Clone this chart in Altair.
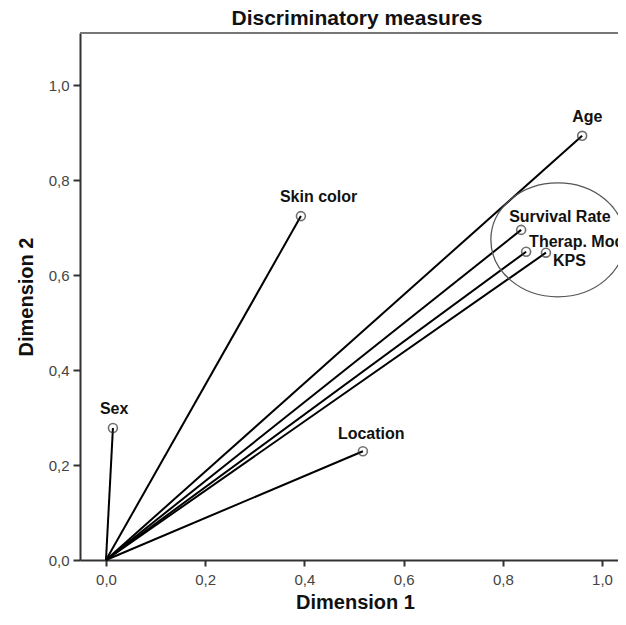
import altair as alt
import pandas as pd

# ---- data ----
chart_title = ["Discriminatory measures"]
variables = ["Sex", "Skin color", "Location", "Age", "Survival Rate", "Therap. Mod", "KPS"]
dimension_1 = [0.014, 0.393, 0.518, 0.960, 0.837, 0.847, 0.887]
dimension_2 = [0.278, 0.724, 0.229, 0.893, 0.695, 0.649, 0.647]

ellipse_center_x = [0.911]
ellipse_center_y = [0.674]

tick_values = [0.0, 0.2, 0.4, 0.6, 0.8, 1.0]

# ---- layout / style (not data) ----
W, H = 538, 527
FONT = "Liberation Sans"
label_offsets = {  # (dx, dy) of label start relative to point
    "Sex": (-13, -14),
    "Skin color": (-21, -14),
    "Location": (-25, -12),
    "Age": (-10, -14),
    "Survival Rate": (-12, -8),
    "Therap. Mod": (3, -5),
    "KPS": (7, 13),
}

df = pd.DataFrame({"variable": variables, "d1": dimension_1, "d2": dimension_2})
df["origin"] = 0.0
ell = pd.DataFrame({"cx": ellipse_center_x, "cy": ellipse_center_y})
ttl = pd.DataFrame({"t": chart_title})

label_expr = "replace(format(datum.value, '.1f'), '.', ',')"

xscale = alt.Scale(domain=[-0.0524, (W - 26) / 496], nice=False, zero=False)
yscale = alt.Scale(domain=[0.0, 1.1095], nice=False, zero=False)

xaxis = alt.Axis(values=tick_values, labelExpr=label_expr, title="Dimension 1",
                 titleFont=FONT, titleFontSize=20, titleFontWeight="bold", titleColor="#111",
                 titleX=275, titleY=48, titleBaseline="alphabetic",
                 labelFont=FONT, labelFontSize=15, labelColor="#444", labelPadding=6,
                 tickSize=6, tickWidth=2, tickColor="#333",
                 domainColor="#333", domainWidth=2, grid=False)
yaxis = alt.Axis(values=tick_values, labelExpr=label_expr, title="Dimension 2",
                 titleFont=FONT, titleFontSize=20, titleFontWeight="bold", titleColor="#111",
                 titleX=-48, titleY=H / 2, titleAngle=270, titleBaseline="alphabetic",
                 labelFont=FONT, labelFontSize=15, labelColor="#444", labelPadding=4,
                 tickSize=7, tickWidth=2, tickColor="#333",
                 domainColor="#333", domainWidth=2, grid=False)

base = alt.Chart(df)

lines = base.mark_rule(color="#000", strokeWidth=2).encode(
    x=alt.X("origin:Q", scale=xscale, axis=xaxis),
    y=alt.Y("origin:Q", scale=yscale, axis=yaxis),
    x2="d1:Q",
    y2="d2:Q",
)

points = base.mark_point(shape="circle", size=80, filled=False, color="#333", strokeWidth=1.6).encode(
    x=alt.X("d1:Q", scale=xscale),
    y=alt.Y("d2:Q", scale=yscale),
)

text_layers = []
for name in variables:
    dx, dy = label_offsets[name]
    text_layers.append(
        base.transform_filter(alt.datum.variable == name)
        .mark_text(align="left", baseline="alphabetic", dx=dx, dy=dy, font=FONT,
                   fontSize=16, fontWeight="bold", color="#111")
        .encode(x=alt.X("d1:Q", scale=xscale), y=alt.Y("d2:Q", scale=yscale), text="variable:N")
    )

ellipse = alt.Chart(ell).mark_point(
    shape="M -1 0 A 1 0.85 0 1 0 1 0 A 1 0.85 0 1 0 -1 0 Z",
    size=134 * 134, filled=False, color="#555", strokeWidth=1.3, opacity=1,
).encode(x=alt.X("cx:Q", scale=xscale), y=alt.Y("cy:Q", scale=yscale))

top_border = alt.Chart(ell).mark_rule(color="#777", strokeWidth=2).encode(
    x=alt.value(0), x2=alt.value(W), y=alt.value(0)
)

title_text = alt.Chart(ttl).mark_text(
    font=FONT, fontSize=21, fontWeight="bold", color="#111", align="center", baseline="alphabetic"
).encode(x=alt.value(277), y=alt.value(-8), text="t:N")

chart = alt.layer(top_border, lines, ellipse, points, *text_layers, title_text).properties(
    width=W, height=H,
    autosize=alt.AutoSizeParams(type="none"),
    padding={"left": 72, "top": 25, "right": 0, "bottom": 51},
).configure_view(fill="#f0f0f0", stroke=None).configure(background="white")

chart.save("out.html", embed_options={"renderer": "svg", "actions": False})
